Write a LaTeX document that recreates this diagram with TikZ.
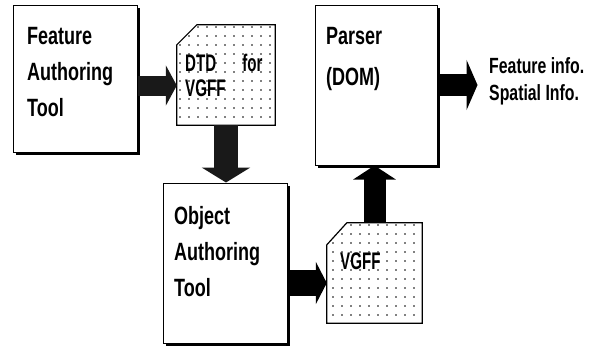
\documentclass[tikz,border=0pt]{standalone}
\usepackage{fontspec}
\setmainfont{Liberation Sans}[FakeStretch=0.72]
\newfontfamily\docfont{Liberation Sans}[FakeStretch=0.63]

\usetikzlibrary{arrows.meta,patterns.meta,shadows}

\tikzset{
  toolbox/.style={draw, line width=1pt, fill=white, inner sep=0pt,
    drop shadow={shadow xshift=3pt, shadow yshift=-2.5pt, fill=black, opacity=1}},
  docarea/.style={inner sep=0pt},
  docsheet/.style={draw, line width=1.2pt, fill=white,
    postaction={pattern={Dots[distance=9pt, radius=0.85pt]}, pattern color=black}},
  boxtext/.style={anchor=north west, inner sep=0pt, align=left,
    font=\fontsize{25}{36}\selectfont\bfseries},
  doctext/.style={anchor=north west, inner sep=0pt, align=left,
    font=\docfont\fontsize{24}{25}\selectfont\bfseries},
}

\begin{document}
\begin{tikzpicture}[x=1pt, y=-1pt]
    \useasboundingbox (0,0) rectangle (593,351);

    % Boxes for the tools
    \node[toolbox, minimum width=124pt, minimum height=147pt] (fat) at (75,78.5) {};
    \node[toolbox, minimum width=124pt, minimum height=160pt] (oat) at (225,263) {};
    \node[toolbox, minimum width=122pt, minimum height=160pt] (parser) at (376,85) {};

    % Documents
    \node[docarea, minimum width=98pt, minimum height=100pt] (dtd) at (226,75) {};
    \node[docarea, minimum width=95pt, minimum height=100pt] (vgff) at (374.5,273) {};
    \draw[docsheet] ([yshift=-20pt]dtd.north west) -- ([xshift=20pt]dtd.north west)
        -- (dtd.north east) -- (dtd.south east) -- (dtd.south west) -- cycle;
    \draw[docsheet] ([yshift=-22pt]vgff.north west) -- ([xshift=20pt]vgff.north west)
        -- (vgff.north east) -- (vgff.south east) -- (vgff.south west) -- cycle;

    % Labels
    \node[boxtext] (fattext) at (27,27) {Feature\\Authoring\\Tool};
    \node[boxtext] (oattext) at (174,206) {Object\\Authoring\\Tool};
    \node[boxtext, font=\fontsize{25}{41}\selectfont\bfseries] (parsertext) at (326,27) {Parser\\(DOM)};
    \node[doctext] (dtdtext) at (185,54) {DTD\hspace{26pt}for\\VGFF};
    \node[doctext] (vgfftext) at (340,253) {VGFF};
    \node[boxtext, font=\fontsize{22}{27}\selectfont\bfseries] (info) at (489,57) {Feature info.\\Spatial Info.};

    % Block arrows
    \draw[black!90, line width=20pt, -{Triangle[length=11pt, width=40pt]}]
        ([yshift=-7pt]fat.east) -- ([yshift=-7pt]fat.east -| dtd.west);
    \draw[black!90, line width=24pt, -{Triangle[length=15pt, width=48pt]}]
        (dtd.south) -- (dtd.south |- oat.north);
    \draw[line width=26pt, -{Triangle[length=11pt, width=42pt]}]
        ([yshift=-20pt]oat.east) -- ([yshift=-20pt]oat.east -| vgff.west);
    \draw[line width=22pt, -{Triangle[length=14pt, width=42pt]}]
        (vgff.north) -- (vgff.north |- parser.south);
    \draw[line width=22pt, -{Triangle[length=11pt, width=50pt]}]
        (parser.east) -- ++(40,0);
\end{tikzpicture}
\end{document}
